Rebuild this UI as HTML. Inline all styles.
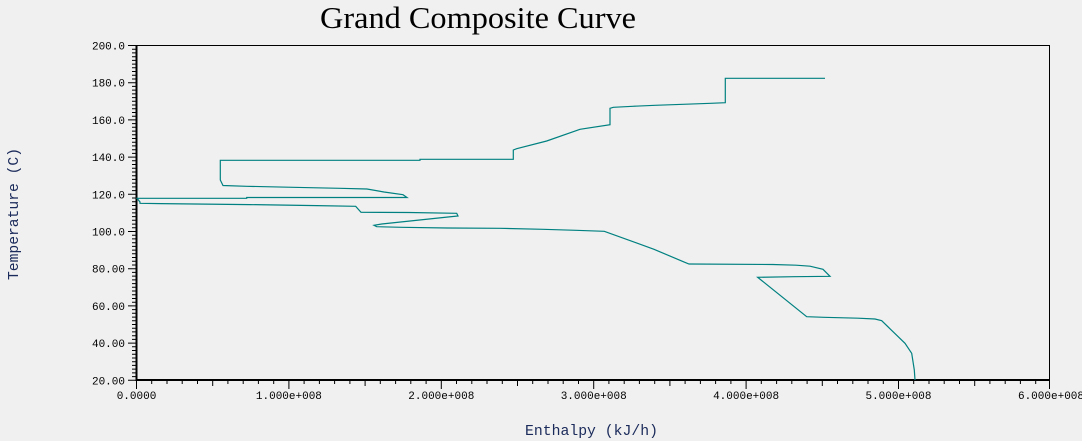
<!DOCTYPE html>
<html><head><meta charset="utf-8"><style>
html,body{margin:0;padding:0;background:#f0f0f0;}
svg{display:block;}
</style></head><body>
<svg width="1082" height="441" viewBox="0 0 1082 441" xmlns="http://www.w3.org/2000/svg">
<rect width="1082" height="441" fill="#f0f0f0"/>
<text x="320" y="28" font-family="Liberation Serif, serif" font-size="31" fill="#000" textLength="316" lengthAdjust="spacingAndGlyphs">Grand Composite Curve</text>
<text x="525" y="435" font-family="Liberation Mono, monospace" font-size="15" fill="#1a2a5a" textLength="133" lengthAdjust="spacingAndGlyphs">Enthalpy (kJ/h)</text>
<text transform="translate(18,280) rotate(-90)" font-family="Liberation Mono, monospace" font-size="15" fill="#1a2a5a" textLength="132" lengthAdjust="spacingAndGlyphs">Temperature (C)</text>
<g stroke="#000" fill="none">
<rect x="136.5" y="45.5" width="913" height="334.5" stroke-width="1"/>
<line x1="136.5" y1="45" x2="136.5" y2="381" stroke-width="2"/>
<line x1="136" y1="380" x2="1050" y2="380" stroke-width="2"/>
<path stroke-width="1" d="
M128,45.5h8 M128,82.7h8 M128,119.9h8 M128,157.1h8 M128,194.3h8 M128,231.5h8 M128,268.7h8 M128,305.9h8 M128,343.1h8 M128,380.3h8
M136.5,380v9 M288.9,380v9 M441.3,380v9 M593.7,380v9 M746.1,380v9 M898.5,380v9 M1049.5,380v9"/>
</g>
<g stroke="#000" stroke-width="1" id="minor"></g>
<g font-family="Liberation Mono, monospace" font-size="11" fill="#000">
<g text-anchor="end">
<text x="125" y="49.5">200.0</text><text x="125" y="86.7">180.0</text><text x="125" y="123.9">160.0</text><text x="125" y="161.1">140.0</text><text x="125" y="198.3">120.0</text><text x="125" y="235.5">100.0</text><text x="125" y="272.7">80.00</text><text x="125" y="309.9">60.00</text><text x="125" y="347.1">40.00</text><text x="125" y="384.3">20.00</text>
</g>
<g text-anchor="middle">
<text x="136.5" y="399">0.0000</text><text x="288.9" y="399">1.000e+008</text><text x="441.3" y="399">2.000e+008</text><text x="593.7" y="399">3.000e+008</text><text x="746.1" y="399">4.000e+008</text><text x="898.5" y="399">5.000e+008</text><text x="1051" y="399">6.000e+008</text>
</g>
</g>
<path fill="none" stroke="#008080" stroke-width="1.2" d="
M825,78.3 L725.3,78.3 L725.3,102.7 L710.7,103.3 L683,104.3 L655,105.3 L632.7,106.3 L613.3,107.3 L610,108.3 L610,124.7
L580,129.3 L546.7,141 L516.7,148.7 L513.3,150 L513.3,159.3 L420,159.3 L420,160.3 L220.3,160.3 L220.3,180 L223,185.5
L246.7,186.3 L293,187.3 L340,188.3 L367,189 L384,192 L403,194.7 L407,197.5 L246.7,197.5 L246.7,198.3 L137,198.3
L140,202 L140,203.3 L161,203.6 L250,204.6 L317,205.6 L355.7,206.3 L361,212.3 L409,212.5 L456.7,213.3 L458,216
L448,217 L381.7,224 L374,225.3 L376.7,226.7 L401.7,227.3 L447.7,228 L500,228.3 L543,229.3 L576,230.3 L604.3,231.3
L654,249.3 L683.3,261.7 L689,264 L772.7,264.5 L796,265.2 L810,266.2 L823,269.3 L830,276.3 L794,276.7 L757.7,277.3
L806.7,316.7 L824,317.3 L858,318.2 L875,319 L881.7,320.7 L905,343.3 L911.7,353.3 L914.3,370 L915,380"/>
<script>
var g=document.getElementById('minor'),d='';
for(var i=0;i<90;i++){if(i%10==0)continue;var y=45.5+i*3.72;d+='M132,'+y.toFixed(1)+'h4 ';}
for(var j=0;j<60;j++){if(j%10==0)continue;var x=136.5+j*15.24;d+='M'+x.toFixed(1)+',380v'+(j%5==0?6:4)+' ';}
var p=document.createElementNS('http://www.w3.org/2000/svg','path');p.setAttribute('d',d);p.setAttribute('fill','none');g.appendChild(p);
</script>
</svg>
</body></html>
